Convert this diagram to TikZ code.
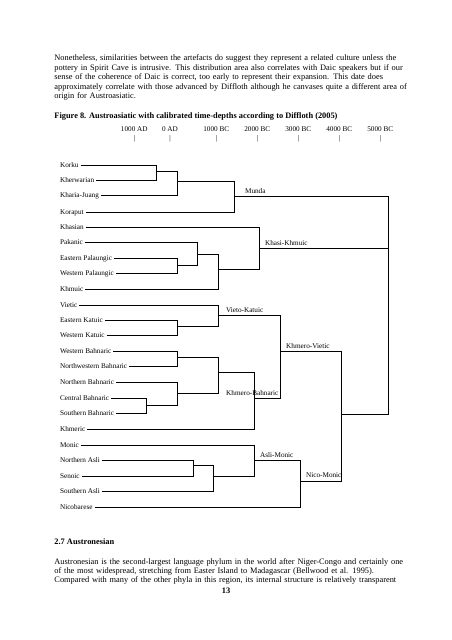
\documentclass[tikz,border=0pt]{standalone}
\usepackage{fontspec}
\setmainfont{Liberation Serif}
\newcommand{\justline}[1]{\makebox[451.5pt][s]{#1}}
\begin{document}
\begin{tikzpicture}[
x=1.3164pt, y=-1.3164pt,
para/.style={anchor=base west, inner sep=0pt, text width=451.5pt, align=left, font=\fontsize{11}{12.5}\selectfont},
heading/.style={anchor=base west, inner sep=0pt, font=\fontsize{11}{13}\selectfont\bfseries},
date/.style={anchor=base, inner sep=0pt, font=\fontsize{9.5}{11}\selectfont},
tick/.style={inner sep=0pt, font=\fontsize{9.5}{11}\selectfont},
leaf/.style={anchor=west, inner xsep=2.5pt, inner ysep=0pt, text height=5pt, text depth=0pt, font=\fontsize{9.5}{11}\selectfont},
clade/.style={anchor=base west, inner sep=0pt, font=\fontsize{9.5}{11}\selectfont},
branch/.style={line width=1.2pt},
]
\useasboundingbox (0,0) rectangle (452,640);

\node[para] (intro) at (54.3,61) {%
\justline{Nonetheless, similarities between the artefacts do suggest they represent a related culture unless the}\\
\justline{pottery in Spirit Cave is intrusive. This distribution area also correlates with Daic speakers but if our}\\
\justline{sense of the coherence of Daic is correct, too early to represent their expansion. This date does}\\
\justline{approximately correlate with those advanced by Diffloth although he canvases quite a different area of}\\
origin for Austroasiatic.};
\node[heading] (caption) at (54.3,118.7) {Figure 8. Austroasiatic with calibrated time-depths according to Diffloth (2005)};

% time scale
\node[date] (d1) at (134.3,131) {1000 AD};
\node[date] (d2) at (170,131) {0 AD};
\node[date] (d3) at (216.3,131) {1000 BC};
\node[date] (d4) at (257.3,131) {2000 BC};
\node[date] (d5) at (298.3,131) {3000 BC};
\node[date] (d6) at (339.3,131) {4000 BC};
\node[date] (d7) at (380.3,131) {5000 BC};
\node[tick] (t1) at (134.3,138.3) {|};
\node[tick] (t2) at (170,138.3) {|};
\node[tick] (t3) at (216.3,138.3) {|};
\node[tick] (t4) at (257.3,138.3) {|};
\node[tick] (t5) at (298.3,138.3) {|};
\node[tick] (t6) at (339.3,138.3) {|};
\node[tick] (t7) at (380.3,138.3) {|};

% languages
\node[leaf] (korku) at (58,165.7) {Korku};
\node[leaf] (kherwarian) at (58,180.7) {Kherwarian};
\node[leaf] (kharia) at (58,195.7) {Kharia-Juang};
\node[leaf] (korapat) at (58,212.3) {Koraput};
\node[leaf] (khasian) at (58,227.5) {Khasian};
\node[leaf] (pakanic) at (58,242.3) {Pakanic};
\node[leaf] (epal) at (58,258.3) {Eastern Palaungic};
\node[leaf] (wpal) at (58,273.3) {Western Palaungic};
\node[leaf] (khmuic) at (58,289.5) {Khmuic};
\node[leaf] (vietic) at (58,305.3) {Vietic};
\node[leaf] (ekat) at (58,320.5) {Eastern Katuic};
\node[leaf] (wkat) at (58,335.5) {Western Katuic};
\node[leaf] (wbah) at (58,351.7) {Western Bahnaric};
\node[leaf] (nwbah) at (58,366.7) {Northwestern Bahnaric};
\node[leaf] (nbah) at (58,382.3) {Northern Bahnaric};
\node[leaf] (cbah) at (58,398.3) {Central Bahnaric};
\node[leaf] (sbah) at (58,413.3) {Southern Bahnaric};
\node[leaf] (khmeric) at (58,429.3) {Khmeric};
\node[leaf] (monic) at (58,445.5) {Monic};
\node[leaf] (nasli) at (58,460.7) {Northern Asli};
\node[leaf] (senoic) at (58,476.3) {Senoic};
\node[leaf] (sasli) at (58,491.7) {Southern Asli};
\node[leaf] (nicobarese) at (58,507.3) {Nicobarese};

% branch points
\coordinate (c1) at (156.7,171.7);
\coordinate (c2) at (177.7,181.3);
\coordinate (munda) at (234.3,196.7);
\coordinate (pal) at (177,265);
\coordinate (c3) at (197.7,254.3);
\coordinate (c4) at (218.3,269.8);
\coordinate (khasikh) at (259.3,248.3);
\coordinate (kat) at (177.3,326);
\coordinate (vk) at (218.3,315.7);
\coordinate (c5) at (177.3,357.3);
\coordinate (c6) at (146.7,405.7);
\coordinate (c7) at (177.3,393.3);
\coordinate (c8) at (218.3,372.3);
\coordinate (kb) at (254.3,398.3);
\coordinate (kv) at (280,351.7);
\coordinate (c9) at (193.3,465.7);
\coordinate (c10) at (213.3,476.7);
\coordinate (am) at (254.3,460.7);
\coordinate (nm) at (300.7,481);
\coordinate (c11) at (341.7,414.3);
\coordinate (root) at (388.3,300);

\draw[branch] (korku.east) -| (c1);
\draw[branch] (kherwarian.east) -| (c1);
\draw[branch] (c1) -| (c2);
\draw[branch] (kharia.east) -| (c2);
\draw[branch] (c2) -| (munda);
\draw[branch] (korapat.east) -| (munda);
\draw[branch] (munda) -| (root);
\draw[branch] (epal.east) -| (pal);
\draw[branch] (wpal.east) -| (pal);
\draw[branch] (pakanic.east) -| (c3);
\draw[branch] (pal) -| (c3);
\draw[branch] (c3) -| (c4);
\draw[branch] (khmuic.east) -| (c4);
\draw[branch] (khasian.east) -| (khasikh);
\draw[branch] (c4) -| (khasikh);
\draw[branch] (khasikh) -| (root);
\draw[branch] (ekat.east) -| (kat);
\draw[branch] (wkat.east) -| (kat);
\draw[branch] (vietic.east) -| (vk);
\draw[branch] (kat) -| (vk);
\draw[branch] (wbah.east) -| (c5);
\draw[branch] (nwbah.east) -| (c5);
\draw[branch] (cbah.east) -| (c6);
\draw[branch] (sbah.east) -| (c6);
\draw[branch] (nbah.east) -| (c7);
\draw[branch] (c6) -| (c7);
\draw[branch] (c5) -| (c8);
\draw[branch] (c7) -| (c8);
\draw[branch] (c8) -| (kb);
\draw[branch] (khmeric.east) -| (kb);
\draw[branch] (vk) -| (kv);
\draw[branch] (kb) -| (kv);
\draw[branch] (nasli.east) -| (c9);
\draw[branch] (senoic.east) -| (c9);
\draw[branch] (c9) -| (c10);
\draw[branch] (sasli.east) -| (c10);
\draw[branch] (monic.east) -| (am);
\draw[branch] (c10) -| (am);
\draw[branch] (am) -| (nm);
\draw[branch] (nicobarese.east) -| (nm);
\draw[branch] (kv) -| (c11);
\draw[branch] (nm) -| (c11);
\draw[branch] (c11) -| (root);

% clade names
\node[clade] (mundaname) at ([xshift=14pt, yshift=4pt]munda) {Munda};
\node[clade] (khasikhname) at ([xshift=7.5pt, yshift=4pt]khasikh) {Khasi-Khmuic};
\node[clade] (vkname) at ([xshift=10pt, yshift=4pt]vk) {Vieto-Katuic};
\node[clade] (kvname) at ([xshift=8pt, yshift=4pt]kv) {Khmero-Vietic};
\node[clade, anchor=base east] (kbname) at ([xshift=-2pt, yshift=4pt]kb -| kv) {Khmero-Bahnaric};
\node[clade] (amname) at ([xshift=7.5pt, yshift=4pt]am) {Asli-Monic};
\node[clade] (nmname) at ([xshift=7pt, yshift=4pt]nm) {Nico-Monic};

\node[heading] (section) at (54.3,544.3) {2.7 Austronesian};
\node[para, font=\fontsize{11}{11.85}\selectfont] (austro) at (54.3,564.3) {%
\justline{Austronesian is the second-largest language phylum in the world after Niger-Congo and certainly one}\\
\justline{of the most widespread, stretching from Easter Island to Madagascar (Bellwood et al. 1995).}\\
\justline{Compared with many of the other phyla in this region, its internal structure is relatively transparent}};
\node[heading, anchor=base] (page) at (226,593.3) {13};
\end{tikzpicture}
\end{document}
